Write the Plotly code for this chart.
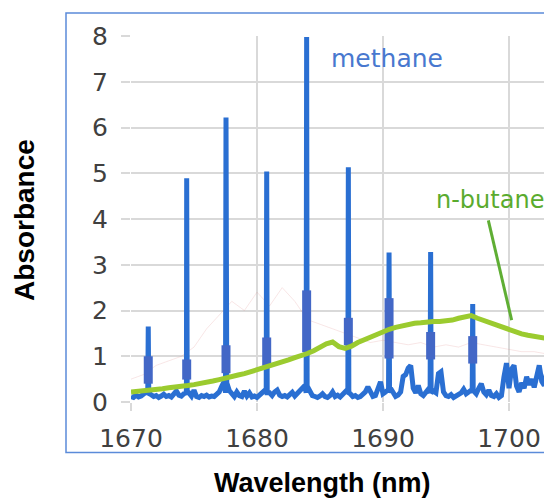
import plotly.graph_objects as go

# ---------------- data ----------------
# methane baseline (0.2 nm step from 1670.0)
base_start = 1670.0
base_step = 0.2
methane_base = [
    0.12, 0.10, 0.15, 0.11, 0.13, 0.16, 0.22, 0.25, 0.16, 0.12,
    0.14, 0.10, 0.13, 0.17, 0.12, 0.14, 0.11, 0.18, 0.24, 0.15,
    0.13, 0.18, 0.30, 0.20, 0.13, 0.26, 0.12, 0.10, 0.14, 0.12,
    0.15, 0.11, 0.13, 0.12, 0.18, 0.22, 0.34, 0.45, 0.42, 0.25,
    0.16, 0.12, 0.22, 0.14, 0.12, 0.24, 0.13, 0.20, 0.11, 0.13,
    0.10, 0.14, 0.18, 0.25, 0.30, 0.20, 0.14, 0.22, 0.26, 0.15,
    0.12, 0.14, 0.11, 0.16, 0.21, 0.13, 0.18, 0.24, 0.30, 0.36,
    0.34, 0.22, 0.14, 0.12, 0.10, 0.13, 0.18, 0.12, 0.10, 0.14,
    0.22, 0.12, 0.15, 0.11, 0.16, 0.24, 0.28, 0.18, 0.12, 0.14,
    0.10, 0.12, 0.16, 0.22, 0.33, 0.20, 0.12, 0.14, 0.30, 0.44,
    0.18, 0.22, 0.26, 0.30, 0.18, 0.12, 0.15, 0.22, 0.56, 0.60,
    0.74, 0.80, 0.30, 0.20, 0.36, 0.18, 0.14, 0.20, 0.28, 0.30,
    0.24, 0.20, 0.62, 0.66, 0.22, 0.14, 0.12, 0.16, 0.10, 0.13,
    0.15, 0.20, 0.28, 0.18, 0.22, 0.26, 0.24, 0.18, 0.30, 0.40,
    0.22, 0.16, 0.26, 0.14, 0.12, 0.18, 0.10, 0.14, 0.55, 0.85,
    0.30, 0.72, 0.80, 0.35, 0.22, 0.42, 0.30, 0.55, 0.38, 0.50,
    0.32, 0.62, 0.80, 0.45, 0.36, 0.66, 0.40, 0.72, 0.50,
]

# methane sharp lines: centre wavelength and peak absorbance
line_nm = [1671.37, 1674.42, 1677.54, 1680.77, 1683.94, 1687.25, 1690.48, 1693.78, 1697.12]
line_peak = [1.65, 4.89, 6.22, 5.04, 7.98, 5.13, 3.27, 3.28, 2.14]
# darker thick segments drawn on each line (low, high)
seg_low = [0.40, 0.49, 0.63, 0.79, 1.09, 1.24, 0.95, 0.93, 0.84]
seg_high = [1.00, 0.93, 1.24, 1.41, 2.44, 1.84, 2.27, 1.53, 1.44]

# n-butane (0.5 nm step from 1670.0)
butane_start = 1670.0
butane_step = 0.5
butane = [
    0.22, 0.23, 0.25, 0.26, 0.28, 0.29, 0.31, 0.32, 0.34, 0.36,
    0.38, 0.40, 0.42, 0.46, 0.49, 0.53, 0.56, 0.59, 0.62, 0.66,
    0.70, 0.74, 0.78, 0.83, 0.87, 0.92, 0.97, 1.01, 1.06, 1.12,
    1.20, 1.27, 1.31, 1.21, 1.17, 1.22, 1.30, 1.36, 1.42, 1.49,
    1.54, 1.59, 1.63, 1.66, 1.70, 1.72, 1.73, 1.75, 1.76, 1.76,
    1.77, 1.79, 1.83, 1.87, 1.89, 1.83, 1.78, 1.73, 1.68, 1.62,
    1.57, 1.53, 1.49, 1.46, 1.43, 1.41, 1.39, 1.37,
]

# faint background trace (1 nm step from 1670)
faint_start = 1670
faint = [0.5, 0.6, 0.8, 0.9, 1.0, 1.2, 1.6, 1.9, 2.2, 2.0,
         2.4, 2.1, 2.5, 2.2, 1.8, 1.7, 1.6, 1.5, 1.4, 1.3,
         1.35, 1.3, 1.25, 1.3, 1.2, 1.25, 1.2, 1.3, 1.25, 1.2,
         1.15, 1.1, 1.1, 1.05]

x_ticks = [1670, 1680, 1690, 1700]
y_ticks = [0, 1, 2, 3, 4, 5, 6, 7, 8]

# ---------------- build traces ----------------
base_x = [round(base_start + i * base_step, 3) for i in range(len(methane_base))]
pts = list(zip(base_x, methane_base))
for c, p in zip(line_nm, line_peak):
    pts += [(c - 0.04, 0.2), (c, p), (c + 0.04, 0.2)]
pts.sort(key=lambda t: t[0])
mx = [t[0] for t in pts]
my = [t[1] for t in pts]

bx = [butane_start + i * butane_step for i in range(len(butane))]
fx = [faint_start + i for i in range(len(faint))]

seg_x, seg_y = [], []
for c, lo, hi in zip(line_nm, seg_low, seg_high):
    seg_x += [c, c, None]
    seg_y += [lo, hi, None]

BLUE = "#2a6fd2"
GREEN = "#9bcb2f"

fig = go.Figure()
fig.add_trace(go.Scatter(x=fx, y=faint, mode="lines",
                         line=dict(color="rgba(225,140,140,0.22)", width=1),
                         hoverinfo="skip", showlegend=False))
fig.add_trace(go.Scatter(x=mx, y=my, mode="lines", name="methane",
                         line=dict(color=BLUE, width=5), showlegend=False))
fig.add_trace(go.Scatter(x=seg_x, y=seg_y, mode="lines",
                         line=dict(color="#4367c6", width=9),
                         hoverinfo="skip", showlegend=False))
fig.add_trace(go.Scatter(x=bx, y=butane, mode="lines", name="n-butane",
                         line=dict(color=GREEN, width=5), showlegend=False))

# page has an 8px body margin; figure is offset by it
OFF = 8
PAGE_W, PAGE_H = 552, 502
W, H = PAGE_W - OFF, PAGE_H - OFF
L, R, T, B = 131 - OFF, 0, 36 - OFF, 100
pw, ph = W - L - R, H - T - B

def px_to_paper_x(px):  # px in page coordinates
    return (px - OFF - L) / pw

def px_to_paper_y(py):
    return (T + ph - (py - OFF)) / ph

tick_font = dict(family="DejaVu Sans", size=25, color="#404040")

fig.update_layout(
    width=W, height=H,
    margin=dict(l=L, r=R, t=T, b=B, pad=0),
    paper_bgcolor="white", plot_bgcolor="white",
    showlegend=False,
    xaxis=dict(range=[1670, 1670 + pw / 12.6], tickvals=x_ticks,
               ticks="outside", ticklen=8, tickcolor="#d9d9d9", tickwidth=1.5,
               showgrid=True, gridcolor="#d9d9d9", gridwidth=1.5,
               zeroline=False, showline=False, tickfont=tick_font,
               ticklabelstandoff=6),
    yaxis=dict(range=[0, 8], tickvals=y_ticks,
               ticks="outside", ticklen=9, tickcolor="#d9d9d9", tickwidth=1.5,
               showgrid=True, gridcolor="#d9d9d9", gridwidth=1.5,
               zeroline=False, showline=False, tickfont=tick_font,
               ticklabelstandoff=8),
    shapes=[
        dict(type="rect", xref="paper", yref="paper",
             x0=px_to_paper_x(66), x1=px_to_paper_x(600),
             y0=px_to_paper_y(452.5), y1=px_to_paper_y(13),
             line=dict(color="#5b8bd9", width=1.5), layer="below"),
        dict(type="line", xref="x", yref="y",
             x0=1698.36, y0=3.97, x1=1700.21, y1=1.79,
             line=dict(color="#5fae34", width=3)),
    ],
    annotations=[
        dict(text="methane", xref="x", yref="y", x=1690.3, y=7.51,
             xanchor="center", yanchor="middle",
             showarrow=False, font=dict(family="DejaVu Sans", size=25, color="#4878cf")),
        dict(text="n-butane", xref="x", yref="y", x=1698.5, y=4.41,
             xanchor="center", yanchor="middle",
             showarrow=False, font=dict(family="DejaVu Sans", size=24, color="#5aab2e")),
        dict(text="<b>Wavelength (nm)</b>", xref="paper", yref="paper",
             x=px_to_paper_x(322), y=px_to_paper_y(483), showarrow=False,
             xanchor="center", yanchor="middle",
             font=dict(family="Liberation Sans", size=27, color="black")),
        dict(text="<b>Absorbance</b>", xref="paper", yref="paper",
             x=px_to_paper_x(24), y=px_to_paper_y(220), showarrow=False, textangle=-90,
             xanchor="center", yanchor="middle",
             font=dict(family="Liberation Sans", size=28, color="black")),
    ],
)

fig.write_html("out.html")
